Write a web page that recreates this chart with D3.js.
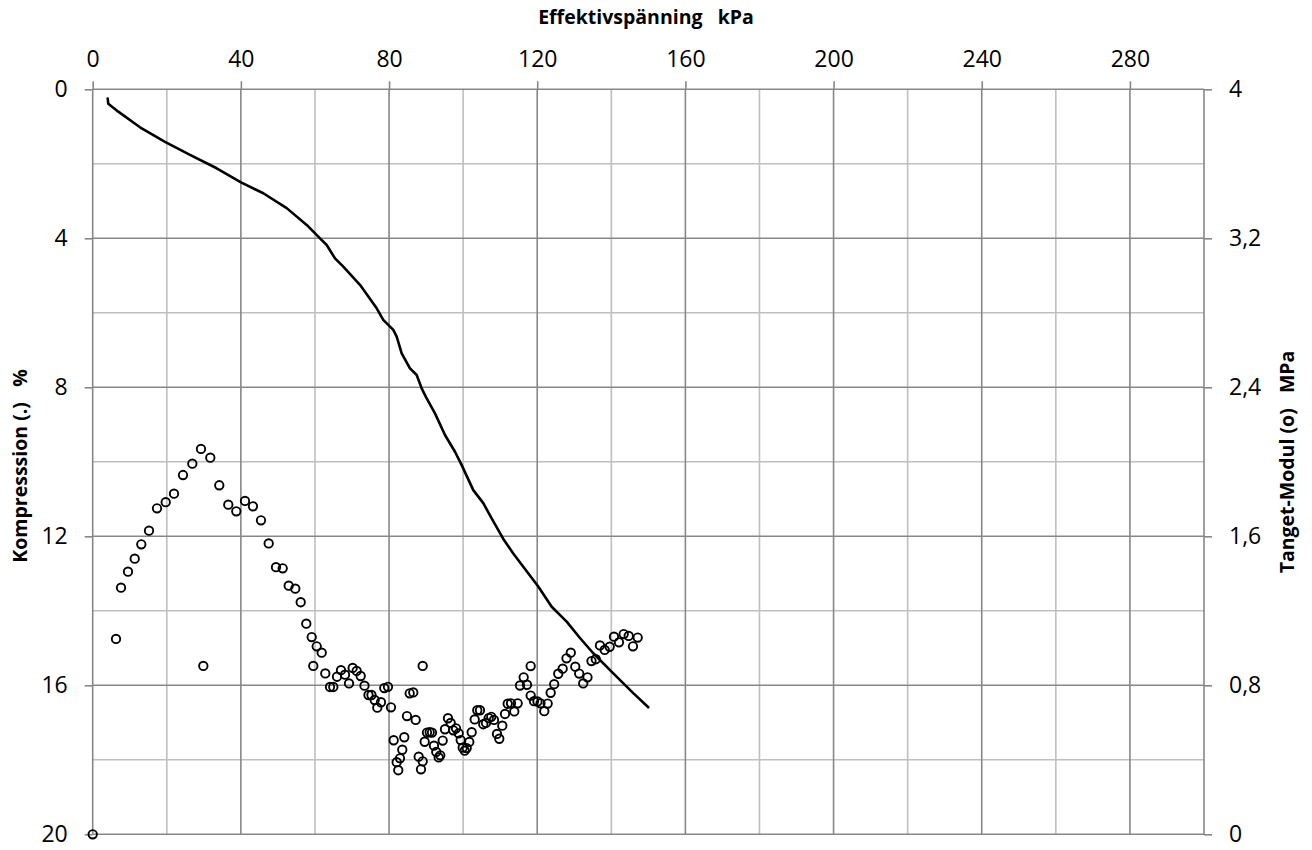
<!DOCTYPE html>
<html>
<head>
<meta charset="utf-8">
<script src="https://cdn.jsdelivr.net/npm/d3@7"></script>
<style>
  html, body { margin: 0; padding: 0; background: #fff; }
  svg { display: block; }
  text { font-family: "Open Sans", "Liberation Sans", sans-serif; fill: #000; }
  .title { white-space: pre; }
</style>
</head>
<body>
<svg id="chart" width="1312" height="850"></svg>
<script>
// Oedometer (CRS) test: compression vs effective stress, and tangent modulus.

// Effective stress axis (kPa)
const stressTicks = [0, 40, 80, 120, 160, 200, 240, 280];
const stressMinor = [20, 60, 100, 140, 180, 220, 260];
// Compression axis (%)
const compressionTicks = [0, 4, 8, 12, 16, 20];
const compressionMinor = [2, 6, 10, 14, 18];
// Modulus axis (MPa)
const modulusTicks = [0, 0.8, 1.6, 2.4, 3.2, 4];

// Compression curve: effective stress (kPa) and compression (%)
const curveStress = [4.05, 4.21, 6.91, 12.77, 19.52, 26.27, 33.47, 40.03, 46.05, 52.37,
  57.77, 61.36, 63.17, 65.41, 67.65, 72.15, 76.66, 78.44, 81.14, 82.06,
  83.41, 85.65, 87.46, 88.81, 90.16, 92.40, 95.10, 97.80, 99.61, 102.74,
  105.44, 107.70, 110.84, 113.53, 116.23, 120.28, 123.90, 127.95, 131.54, 135.13,
  140.53, 145.93, 149.98];
const curveCompression = [0.25, 0.39, 0.60, 1.02, 1.41, 1.76, 2.12, 2.50, 2.79, 3.19,
  3.64, 4.00, 4.18, 4.54, 4.76, 5.25, 5.88, 6.19, 6.46, 6.64,
  7.09, 7.49, 7.67, 8.03, 8.30, 8.70, 9.28, 9.73, 10.09, 10.76,
  11.11, 11.52, 12.07, 12.46, 12.82, 13.35, 13.89, 14.29, 14.73, 15.14,
  15.68, 16.21, 16.59];

// Tangent modulus points: effective stress (kPa) and modulus (MPa)
const modulusStress = [0, 6.29, 7.64, 9.53, 11.34, 13.12, 15.20, 17.36, 19.71, 21.95,
  24.38, 26.89, 29.23, 31.75, 29.86, 34.17, 36.60, 38.76, 41.11, 43.27,
  45.43, 47.51, 49.48, 51.29, 52.91, 54.69, 56.15, 57.66, 59.12, 60.47,
  61.82, 59.55, 62.79, 64.06, 64.95, 65.95, 67.03, 68.11, 69.19, 70.18,
  71.26, 72.34, 73.37, 74.45, 75.26, 76.12, 76.83, 77.82, 78.71, 79.71,
  80.52, 81.25, 82.06, 82.49, 82.95, 83.57, 84.11, 84.84, 85.57, 86.54,
  87.19, 88.00, 88.62, 89.08, 89.08, 89.62, 90.24, 90.97, 91.59, 92.13,
  92.75, 93.40, 93.83, 94.48, 95.10, 95.91, 96.64, 97.34, 98.07, 98.80,
  99.34, 99.88, 100.42, 100.96, 101.66, 102.31, 103.12, 103.82, 104.55, 105.44,
  106.17, 106.90, 107.60, 108.33, 109.14, 109.76, 110.57, 111.30, 112.03, 112.92,
  113.81, 114.72, 115.35, 116.34, 117.24, 118.23, 118.23, 119.13, 120.07, 120.88,
  121.91, 122.82, 123.63, 124.58, 125.68, 126.87, 127.90, 129.06, 130.27, 131.33,
  132.41, 133.57, 134.65, 135.81, 136.94, 138.21, 139.56, 140.72, 142.07, 143.34,
  144.69, 145.85, 147.12];
const modulusValues = [0, 1.049, 1.324, 1.410, 1.480, 1.557, 1.630, 1.750, 1.783, 1.829,
  1.929, 1.990, 2.069, 2.022, 0.904, 1.874, 1.770, 1.734, 1.790, 1.761,
  1.686, 1.562, 1.434, 1.428, 1.335, 1.319, 1.246, 1.131, 1.059, 1.009,
  0.975, 0.904, 0.864, 0.791, 0.791, 0.846, 0.881, 0.857, 0.810, 0.893,
  0.877, 0.850, 0.798, 0.748, 0.748, 0.721, 0.680, 0.709, 0.785, 0.792,
  0.682, 0.505, 0.387, 0.344, 0.408, 0.454, 0.521, 0.635, 0.757, 0.762,
  0.614, 0.417, 0.349, 0.392, 0.904, 0.497, 0.546, 0.548, 0.546, 0.476,
  0.442, 0.413, 0.424, 0.503, 0.564, 0.623, 0.598, 0.558, 0.569, 0.542,
  0.506, 0.465, 0.449, 0.463, 0.496, 0.548, 0.617, 0.666, 0.666, 0.591,
  0.598, 0.624, 0.631, 0.614, 0.539, 0.513, 0.583, 0.646, 0.701, 0.703,
  0.660, 0.703, 0.799, 0.843, 0.803, 0.903, 0.745, 0.715, 0.713, 0.703,
  0.661, 0.702, 0.760, 0.806, 0.862, 0.889, 0.945, 0.975, 0.900, 0.863,
  0.810, 0.843, 0.930, 0.940, 1.014, 0.990, 1.007, 1.061, 1.031, 1.075,
  1.065, 1.009, 1.056];

const svg = d3.select("#chart");
const plot = { left: 92.7, right: 1204, top: 89.3, bottom: 834.3 };

const x = d3.scaleLinear().domain([0, 300]).range([plot.left, plot.right]);
const yComp = d3.scaleLinear().domain([0, 20]).range([plot.top, plot.bottom]);
const yMod = d3.scaleLinear().domain([0, 4]).range([plot.bottom, plot.top]);

const minorColor = "#bfbfbf";
const majorColor = "#878787";
const gridWidth = 1.6;

// Grid: minor lines first, then major lines on top
const grid = svg.append("g");
grid.selectAll("line.vminor").data(stressMinor).join("line")
  .attr("x1", d => x(d)).attr("x2", d => x(d))
  .attr("y1", plot.top).attr("y2", plot.bottom)
  .attr("stroke", minorColor).attr("stroke-width", gridWidth);
grid.selectAll("line.hminor").data(compressionMinor).join("line")
  .attr("x1", plot.left).attr("x2", plot.right)
  .attr("y1", d => yComp(d)).attr("y2", d => yComp(d))
  .attr("stroke", minorColor).attr("stroke-width", gridWidth);
grid.selectAll("line.vmajor").data(stressTicks.concat([300])).join("line")
  .attr("x1", d => x(d)).attr("x2", d => x(d))
  .attr("y1", plot.top).attr("y2", plot.bottom)
  .attr("stroke", majorColor).attr("stroke-width", gridWidth);
grid.selectAll("line.hmajor").data(compressionTicks).join("line")
  .attr("x1", plot.left).attr("x2", plot.right)
  .attr("y1", d => yComp(d)).attr("y2", d => yComp(d))
  .attr("stroke", majorColor).attr("stroke-width", gridWidth);

const tickFont = 23;
function styleAxis(g) {
  g.select(".domain").remove();
  g.selectAll(".tick line").attr("stroke", majorColor).attr("stroke-width", gridWidth);
  g.selectAll(".tick text").attr("font-size", tickFont)
    .attr("font-family", "'Open Sans', sans-serif").attr("fill", "#000");
}

// Top axis: effective stress
svg.append("g").attr("transform", `translate(0,${plot.top})`)
  .call(d3.axisTop(x).tickValues(stressTicks).tickSize(8).tickPadding(14).tickFormat(d3.format("d")))
  .call(styleAxis);

// Left axis: compression
svg.append("g").attr("transform", `translate(${plot.left},0)`)
  .call(d3.axisLeft(yComp).tickValues(compressionTicks).tickSize(8).tickPadding(17).tickFormat(d3.format("d")))
  .call(styleAxis);

// Right axis: tangent modulus, decimal comma
const commaFmt = d => d3.format("~g")(d).replace(".", ",");
svg.append("g").attr("transform", `translate(${plot.right},0)`)
  .call(d3.axisRight(yMod).tickValues(modulusTicks).tickSize(8).tickPadding(17).tickFormat(commaFmt))
  .call(styleAxis);

// Compression curve
const line = d3.line().x(d => x(d[0])).y(d => yComp(d[1]));
svg.append("path")
  .datum(d3.zip(curveStress, curveCompression))
  .attr("d", line)
  .attr("fill", "none").attr("stroke", "#000").attr("stroke-width", 2.6)
  .attr("stroke-linejoin", "round").attr("stroke-linecap", "round");

// Tangent modulus markers
svg.append("g").selectAll("circle")
  .data(d3.zip(modulusStress, modulusValues))
  .join("circle")
  .attr("cx", d => x(d[0])).attr("cy", d => yMod(d[1]))
  .attr("r", 4.2)
  .attr("fill", "none").attr("stroke", "#000").attr("stroke-width", 1.9);

// Axis titles
const titleSize = 19.5;
svg.append("text").attr("class", "title")
  .attr("x", 646).attr("y", 24)
  .attr("text-anchor", "middle")
  .attr("font-size", titleSize).attr("font-weight", "bold")
  .text("Effektivspänning   kPa");

svg.append("text").attr("class", "title")
  .attr("transform", "translate(27,466) rotate(-90)")
  .attr("text-anchor", "middle")
  .attr("font-size", titleSize).attr("font-weight", "bold")
  .text("Kompresssion (.)   %");

svg.append("text").attr("class", "title")
  .attr("transform", "translate(1294,462) rotate(-90)")
  .attr("text-anchor", "middle")
  .attr("font-size", titleSize).attr("font-weight", "bold")
  .text("Tanget-Modul (o)   MPa");
</script>
</body>
</html>
